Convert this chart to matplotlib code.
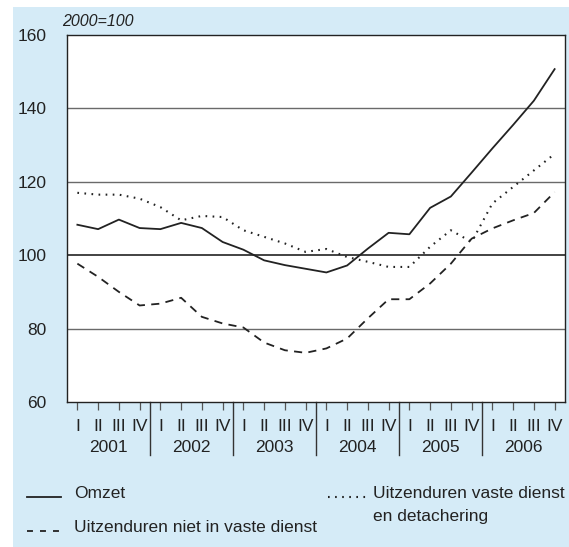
import matplotlib
matplotlib.use("Agg")
import matplotlib.pyplot as plt
from matplotlib.lines import Line2D
from matplotlib.patches import Rectangle

plt.rcParams['font.family'] = ['Liberation Sans', 'DejaVu Sans']

years = ['2001', '2002', '2003', '2004', '2005', '2006']
quarters = ['I', 'II', 'III', 'IV']
y_ticks = [60, 80, 100, 120, 140, 160]

omzet = [108.3, 107.1, 109.7, 107.4, 107.1, 108.8, 107.4, 103.6,
         101.5, 98.6, 97.3, 96.3, 95.3, 97.2, 101.8, 106.1,
         105.7, 112.9, 116.0, 122.5, 129.1, 135.5, 142.1, 150.7]
vast = [117.0, 116.5, 116.5, 115.4, 113.1, 109.5, 110.7, 110.4,
        106.8, 105.0, 103.2, 100.9, 101.7, 99.5, 98.2, 96.8,
        96.8, 102.3, 106.8, 103.6, 114.1, 118.6, 123.1, 127.6]
niet_vast = [97.7, 94.1, 90.0, 86.3, 86.8, 88.4, 83.2, 81.4,
             80.3, 76.2, 74.1, 73.4, 74.6, 77.3, 82.8, 88.0,
             88.0, 92.3, 97.7, 104.5, 107.3, 109.5, 111.5, 117.2]

bg = '#d5ebf7'
FS = 12.5
W, H = 569, 547
fig = plt.figure(figsize=(W / 100, H / 100), dpi=100, facecolor='white')
# blue panel (white strip at top and left)
fig.patches.append(Rectangle((13 / W, 0), 1 - 13 / W, 1 - 7 / H,
                             transform=fig.transFigure, facecolor=bg,
                             edgecolor='none', zorder=-10))

left, right, top, bottom = 67, 565, 35, 402
ax = fig.add_axes([left / W, 1 - bottom / H, (right - left) / W, (bottom - top) / H])
ax.set_zorder(5)
ax.set_facecolor('white')

n = len(omzet)
x = list(range(n))
ax.set_xlim(-0.5, n - 0.5)
ax.set_ylim(60, 160)

for v in [80, 120, 140]:
    ax.axhline(v, color='#6a6a6a', lw=1.0, zorder=1)
ax.axhline(100, color='#222222', lw=1.2, zorder=1)

ax.plot(x, omzet, color='#222222', lw=1.3, zorder=3)
ax.plot(x, vast, color='#222222', lw=1.5, linestyle=(0, (0.8, 2.6)), zorder=3)
ax.plot(x, niet_vast, color='#222222', lw=1.3, linestyle=(0, (4.5, 3.5)), zorder=3)

for s in ax.spines.values():
    s.set_color('#222222')
    s.set_linewidth(1.0)

ax.set_yticks(y_ticks)
ax.set_yticklabels([str(v) for v in y_ticks], fontsize=FS, color='#222222')
ax.tick_params(axis='y', length=0, pad=15)

labels = [q for _ in years for q in quarters]
ax.set_xticks(x)
ax.set_xticklabels(labels, fontsize=FS, color='#222222')
ax.tick_params(axis='x', length=6, width=0.9, color='#555555', pad=6)

# year separators and labels
trans = ax.get_xaxis_transform()
axh_px = bottom - top
for k in range(1, len(years)):
    xs = 4 * k - 0.5
    ax.add_line(Line2D([xs, xs], [0, -(455 - bottom) / axh_px], transform=trans,
                       color='#333333', lw=1.0, clip_on=False))
for k, yr in enumerate(years):
    ax.text(4 * k + 1.5, -(448 - bottom) / axh_px, yr, transform=trans,
            ha='center', va='center', fontsize=FS, color='#222222')

fig.text(62 / W, 1 - 21 / H, '2000=100', style='italic', fontsize=11.5,
         color='#222222', va='center', ha='left')

# legend
def fy(p):
    return 1 - p / H

fig.add_artist(Line2D([27 / W, 61 / W], [fy(497), fy(497)], color='#222222', lw=1.3))
fig.text(74 / W, fy(494), 'Omzet', fontsize=FS, va='center', color='#222222')
fig.add_artist(Line2D([27 / W, 61 / W], [fy(531), fy(531)], color='#222222', lw=1.3,
                      linestyle=(0, (3.3, 3.9))))
fig.text(74 / W, fy(527), 'Uitzenduren niet in vaste dienst', fontsize=FS,
         va='center', color='#222222')
fig.add_artist(Line2D([328 / W, 366 / W], [fy(497), fy(497)], color='#222222', lw=1.5,
                      linestyle=(0, (0.8, 2.6))))
fig.text(373 / W, fy(494), 'Uitzenduren vaste dienst', fontsize=FS, va='center',
         color='#222222')
fig.text(373 / W, fy(516), 'en detachering', fontsize=FS, va='center',
         color='#222222')

fig.savefig('out.png', dpi=100, facecolor=fig.get_facecolor())
